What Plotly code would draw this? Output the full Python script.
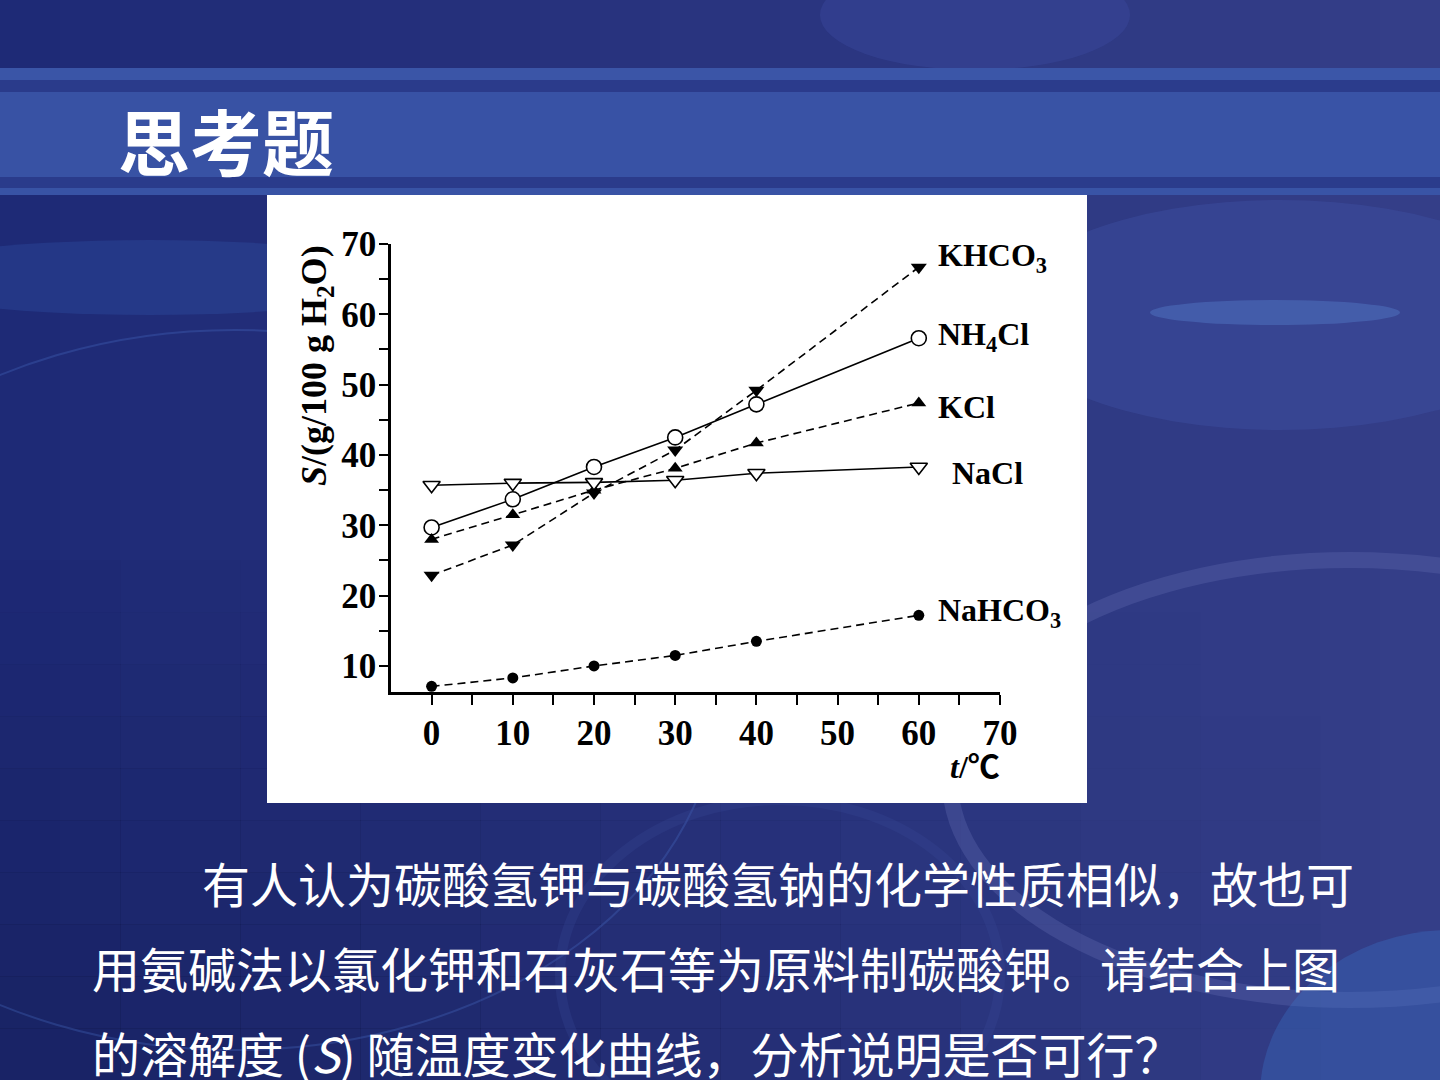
import plotly.graph_objects as go

# ---------------- data ----------------
temps = [0, 10, 20, 30, 40, 60]
khco3 = [22.9, 27.2, 34.6, 40.7, 49.2, 66.7]
nh4cl = [29.7, 33.7, 38.3, 42.5, 47.2, 56.6]
kcl = [28.0, 31.5, 35.0, 38.1, 41.7, 47.4]
nacl = [35.7, 36.0, 36.1, 36.4, 37.4, 38.3]
nahco3 = [7.1, 8.3, 10.0, 11.5, 13.5, 17.2]

series_names = ["KHCO<sub>3</sub>", "NH<sub>4</sub>Cl", "KCl", "NaCl", "NaHCO<sub>3</sub>"]

x_tick_vals = [0, 10, 20, 30, 40, 50, 60, 70]
x_tick_text = ["0", "10", "20", "30", "40", "50", "60", "70"]
x_minor_vals = [5, 15, 25, 35, 45, 55, 65]
y_tick_vals = [10, 20, 30, 40, 50, 60, 70]
y_tick_text = ["10", "20", "30", "40", "50", "60", "70"]
y_minor_vals = [15, 25, 35, 45, 55, 65]

title_text = "思考题"
body_lines = [
    "有人认为碳酸氢钾与碳酸氢钠的化学性质相似，故也可",
    "用氨碱法以氯化钾和石灰石等为原料制碳酸钾。请结合上图",
    "的溶解度 (<i>S</i>) 随温度变化曲线，分析说明是否可行？",
]
y_title = "<i>S</i>/(g/100 g H<sub>2</sub>O)"
x_title = "<i>t</i>/<span style=\"font-family:Noto Sans CJK SC\">℃</span>"

# ---------------- layout geometry ----------------
W, H = 1440, 1080
L, R, T, B = 391, 1000, 244, 692


def px(x):
    return (x - L) / (R - L)


def py(y):
    return (B - y) / (B - T)


serif = "Liberation Serif, Times New Roman, serif"
cjk = "Noto Sans CJK SC, sans-serif"
dash = "8px,5px"

fig = go.Figure()

styles = [
    (khco3, dict(symbol="triangle-down", size=14, color="black"), dash),
    (nh4cl, dict(symbol="circle", size=15, color="white", line=dict(color="black", width=1.6)), "solid"),
    (kcl, dict(symbol="triangle-up", size=13, color="black"), dash),
    (nacl, dict(symbol="triangle-down", size=15, color="white", line=dict(color="black", width=1.6)), "solid"),
    (nahco3, dict(symbol="circle", size=11, color="black"), dash),
]
for (vals, mk, ds), name in zip(styles, series_names):
    fig.add_trace(go.Scatter(
        x=temps, y=vals, mode="lines+markers", name=name,
        line=dict(color="black", width=1.6, dash=ds),
        marker=mk, showlegend=False, cliponaxis=False,
    ))

# ---------------- background shapes ----------------
shapes = []


def rect(x0, y0, x1, y1, color, opacity=1.0):
    shapes.append(dict(type="rect", xref="paper", yref="paper",
                       x0=px(x0), x1=px(x1), y0=py(y1), y1=py(y0),
                       fillcolor=color, opacity=opacity,
                       line=dict(width=0), layer="below"))


def ellipse(x0, y0, x1, y1, color=None, opacity=1.0, line=None):
    shapes.append(dict(type="circle", xref="paper", yref="paper",
                       x0=px(x0), x1=px(x1), y0=py(y1), y1=py(y0),
                       fillcolor=color or "rgba(0,0,0,0)", opacity=opacity,
                       line=line or dict(width=0), layer="below"))


def lerp(c0, c1, t):
    return "rgb(%d,%d,%d)" % tuple(round(a + (b - a) * t) for a, b in zip(c0, c1))


# horizontal gradient base
n_strips = 24
for i in range(n_strips):
    t = i / (n_strips - 1)
    x0 = W * i / n_strips
    rect(x0, 0, x0 + W / n_strips + 1, H, lerp((30, 42, 118), (52, 62, 136), t))

# darker lower-left, fading towards the right and upwards
n_rows = 10
for j in range(n_rows):
    s = (j + 1) / n_rows
    y0 = 560 + (H - 560) * j / n_rows
    y1 = 560 + (H - 560) * (j + 1) / n_rows + 1
    for i in range(12):
        t = i / 11
        x0 = W * i / 12
        op = 0.5 * s * (1 - t) ** 1.2
        if op > 0.01:
            rect(x0, y0, x0 + W / 12 + 1, y1, "#141c55", op)

# soft decorations
ellipse(820, -40, 1130, 70, "#3c4ca0", 0.4)
ellipse(1000, 200, 1560, 430, "#3f4fa2", 0.45)
ellipse(1150, 300, 1400, 325, "#5b8ad8", 0.35)
ellipse(950, 560, 1750, 1000, None, 0.4, dict(color="#5a64aa", width=16))
ellipse(-250, 330, 720, 1050, None, 0.3, dict(color="#4a70c8", width=2))
ellipse(-120, 240, 420, 315, "#3a6fc8", 0.2)
ellipse(560, 800, 1000, 1150, None, 0.25, dict(color="#3a4c9a", width=10))
ellipse(1260, 930, 1640, 1260, "#3b7cd0", 0.3)

# header bands
rect(0, 68, W, 80, "#3c57aa", 0.95)
rect(0, 80, W, 92, "#2b3c8c", 0.95)
rect(0, 92, W, 177, "#3a55a8", 0.93)
rect(0, 177, W, 188, "#2b3c8c", 0.95)
rect(0, 188, W, 195, "#3a55a8", 0.95)

# white chart panel
rect(267, 195, 1087, 803, "white")

# ---------------- annotations ----------------
ann = []
ann.append(dict(text="<b>" + title_text + "</b>", xref="paper", yref="paper",
                x=px(116), y=py(138), xanchor="left", yanchor="middle",
                showarrow=False, font=dict(family=cjk, size=72, color="white")))
body_pos = [(200, 882), (90, 967), (90, 1052)]
for line_text, (bx, by) in zip(body_lines, body_pos):
    ann.append(dict(text=line_text, xref="paper", yref="paper",
                    x=px(bx), y=py(by), xanchor="left", yanchor="middle",
                    showarrow=False, font=dict(family=cjk, size=48, color="white")))

ann.append(dict(text="<b>" + y_title + "</b>", xref="paper", yref="paper",
                x=px(316), y=py(366), xanchor="center", yanchor="middle",
                textangle=-90, showarrow=False,
                font=dict(family=serif, size=36, color="black")))
ann.append(dict(text="<b>" + x_title + "</b>", xref="paper", yref="paper",
                x=px(975), y=py(764), xanchor="center", yanchor="middle",
                showarrow=False, font=dict(family=serif, size=32, color="black")))

label_offsets = [(17, 10), (17, 2), (17, -4), (31, -6), (17, 3)]
series_vals = [khco3, nh4cl, kcl, nacl, nahco3]
for name, vals, (dx, dy) in zip(series_names, series_vals, label_offsets):
    ann.append(dict(text="<b>" + name + "</b>", x=temps[-1], y=vals[-1],
                    xref="x", yref="y", xanchor="left", yanchor="middle",
                    xshift=dx, yshift=dy, showarrow=False,
                    font=dict(family=serif, size=32, color="black")))

axis_font = dict(family=serif, size=35, color="black", weight="bold")

fig.update_layout(
    width=W, height=H, autosize=False,
    margin=dict(l=L, r=W - R, t=T, b=H - B, pad=0),
    paper_bgcolor="#212c74", plot_bgcolor="rgba(0,0,0,0)",
    shapes=shapes, annotations=ann,
    xaxis=dict(range=[-5, 70], tickvals=x_tick_vals, ticktext=x_tick_text,
               ticks="outside", ticklen=10, tickwidth=2, tickcolor="black",
               showline=True, linecolor="black", linewidth=2.5,
               showgrid=False, zeroline=False, tickfont=axis_font,
               ticklabelstandoff=-2,
               minor=dict(tickvals=x_minor_vals, ticks="outside", ticklen=10,
                          tickwidth=2, tickcolor="black", showgrid=False)),
    yaxis=dict(range=[6.3, 70], tickvals=y_tick_vals, ticktext=y_tick_text,
               ticks="outside", ticklen=9, tickwidth=2, tickcolor="black",
               showline=True, linecolor="black", linewidth=2.5,
               showgrid=False, zeroline=False, tickfont=axis_font,
               ticklabelstandoff=-4,
               minor=dict(tickvals=y_minor_vals, ticks="outside", ticklen=9,
                          tickwidth=2, tickcolor="black", showgrid=False)),
)

fig.write_html("out.html")
